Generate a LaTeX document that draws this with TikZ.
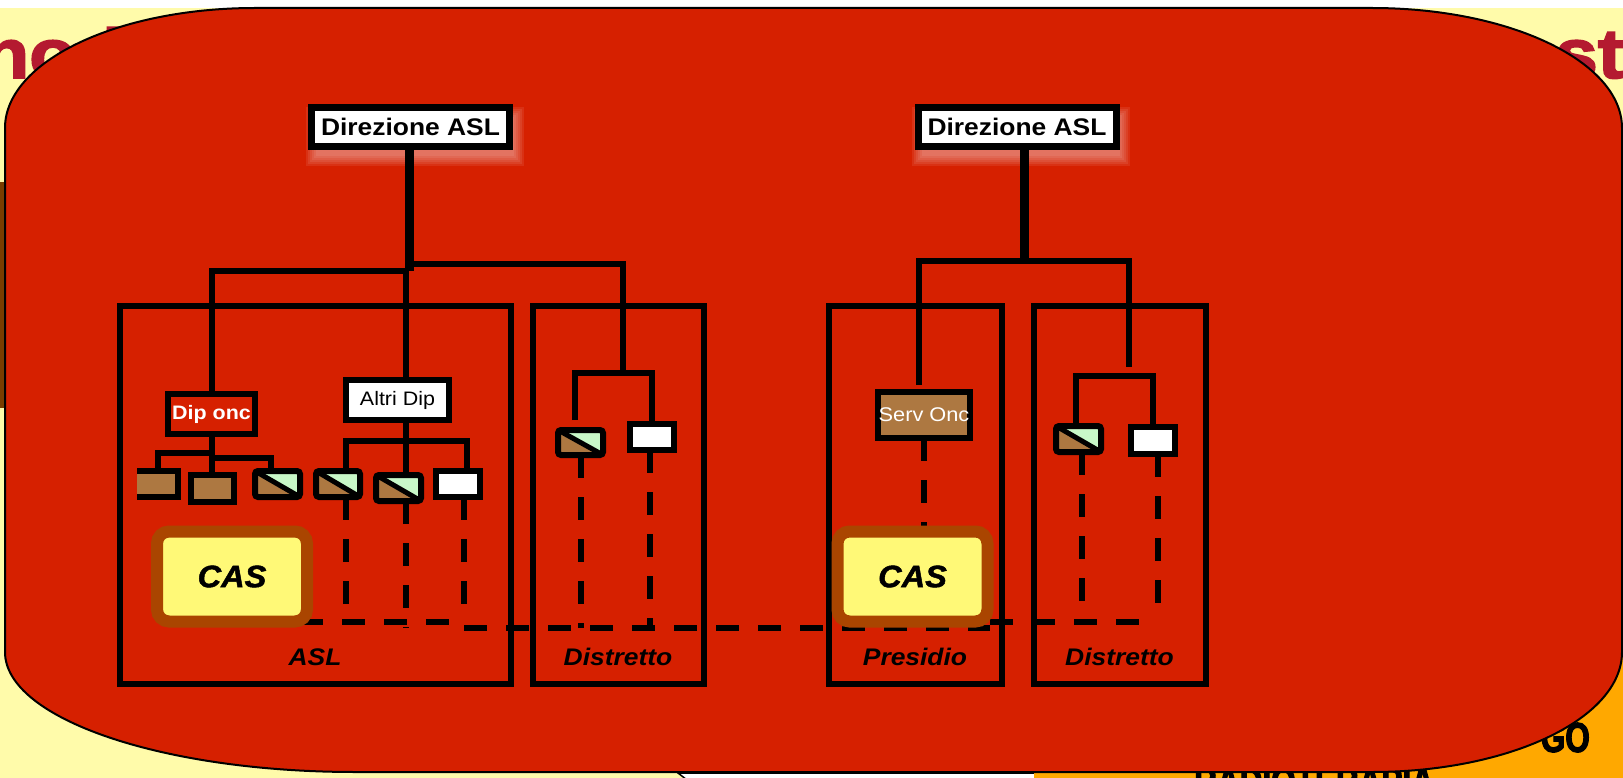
\documentclass[tikz,border=0pt]{standalone}
\usepackage{fontspec}
\setmainfont{Liberation Sans}[FakeStretch=1.1]
\newfontfamily\narrowf{Liberation Sans}[FakeStretch=0.75, FakeBold=2.5]
\newfontfamily\heavyf{Liberation Sans}[FakeStretch=1.1, FakeBold=2.5]
\newfontfamily\casf{Liberation Sans}[FakeStretch=1.05, FakeBold=1.5]
\pgfdeclarelayer{back}
\pgfdeclarelayer{lines}
\pgfsetlayers{back,lines,main}
\definecolor{bgy}{HTML}{FFFBAA}
\definecolor{titler}{HTML}{B41A30}
\definecolor{callred}{HTML}{D62000}
\definecolor{brownb}{HTML}{AD7841}
\definecolor{greenb}{HTML}{C8F8C8}
\definecolor{casbr}{HTML}{AA4500}
\definecolor{casy}{HTML}{FFF977}
\definecolor{stripc}{HTML}{793D00}
\definecolor{orng}{HTML}{FFA800}
\begin{document}
\begin{tikzpicture}[x=1pt,y=-1pt,
  box/.style={draw, line width=6pt, inner sep=0pt, outer sep=0pt},
  tree/.style={line width=6pt},
  thickv/.style={line width=9pt},
  dashln/.style={line width=6pt, dash pattern=on 23pt off 19pt},
  dirbox/.style={box, line width=7pt, fill=white, minimum width=198pt, minimum height=39pt,
    font=\fontsize{24}{28}\selectfont\bfseries},
  glow/.style={fill=white, opacity=0.08},
  brbox/.style={box, fill=brownb},
  whbox/.style={box, fill=white},
  splitbox/.style={box, fill=greenb, rounded corners=3pt,
    path picture={\fill[brownb] (path picture bounding box.north west) -- (path picture bounding box.south east) -- (path picture bounding box.south west) -- cycle;
      \draw[line width=5pt] (path picture bounding box.north west) -- (path picture bounding box.south east);}},
  cas/.style={draw=casbr, line width=12pt, fill=casy, rounded corners=12pt, minimum width=150pt,
    minimum height=90pt, inner sep=0pt, font=\fontsize{31}{34}\selectfont\casf\bfseries\itshape},
  lab/.style={inner sep=0pt, font=\fontsize{24}{28}\selectfont\bfseries\itshape},
  ttl/.style={inner sep=0pt, text=titler, font=\fontsize{70}{74}\selectfont\heavyf\bfseries},
  btm/.style={inner sep=0pt, text=black, font=\fontsize{42}{46}\selectfont\narrowf\bfseries}
]
\useasboundingbox (0,0) rectangle (1623,778);
\begin{pgfonlayer}{back}
\fill[white] (0,0) rectangle (1623,778);
\fill[bgy] (0,8) rectangle (1623,778);
\fill[stripc] (0,182) rectangle (6,408);
\filldraw[fill=white, draw=black, line width=1.5pt] (1060,773) -- (678,773) -- (700,790) -- (1060,790) -- cycle;
\fill[orng] (1034,480) rectangle (1623,778);
\node[ttl, anchor=base west] (t1) at (-18,78) {nod};
\node[ttl, anchor=base west] (t2) at (1512,78) {est};
\node[btm, anchor=base east] (t3) at (1590,752) {GO};
\node[btm, anchor=base west] (t4) at (1194,796) {RADIOTERAPIA};
\draw[fill=callred, line width=2pt]
  (5,128) .. controls (5,61.7) and (117,8) .. (255,8) -- (1372,8)
  .. controls (1510,8) and (1622,61.7) .. (1622,128) -- (1622,652)
  .. controls (1622,718.3) and (1510,772) .. (1372,772) -- (355,772)
  .. controls (161.7,772) and (5,718.3) .. (5,652) -- cycle;
\end{pgfonlayer}

% big boxes
\node[box, minimum width=391pt, minimum height=378pt] (asl) at (315.5,495) {};
\node[box, minimum width=171pt, minimum height=378pt] (dis1) at (618.5,495) {};
\node[box, minimum width=173pt, minimum height=378pt] (pres) at (915.5,495) {};
\node[box, minimum width=172pt, minimum height=378pt] (dis2) at (1120,495) {};
\node[lab, anchor=base] (lasl) at (315,665) {ASL};
\node[lab, anchor=base] (ldis1) at (618,665) {Distretto};
\node[lab, anchor=base] (lpres) at (915,665) {Presidio};
\node[lab, anchor=base] (ldis2) at (1119.5,665) {Distretto};

% top boxes
\node[dirbox] (dirL) at (410.5,127) {Direzione ASL};
\node[dirbox] (dirR) at (1017,127) {Direzione ASL};
\node[box, fill=callred, minimum width=87pt, minimum height=40pt, text=white,
  font=\fontsize{19.5}{22}\selectfont\bfseries] (dip) at (211.5,414) {Dip onc};
\node[box, fill=white, minimum width=103pt, minimum height=40pt,
  font=\fontsize{19.5}{22}\selectfont] (altri) at (397.5,400) {Altri Dip};
\node[box, fill=brownb, minimum width=92pt, minimum height=46pt, text=white,
  font=\fontsize{19.8}{22}\selectfont] (serv) at (924,415) {Serv Onc};

% small boxes
\node[box, draw=none, fill=brownb, minimum width=41pt, minimum height=26pt] (b1) at (157.5,484) {};
\draw[line width=6pt] (b1.north west) -- (b1.north east) -- (b1.south east) -- (b1.south west);
\node[brbox, minimum width=43pt, minimum height=27pt] (b2) at (212.5,488.5) {};
\node[splitbox, minimum width=45pt, minimum height=26pt] (b3) at (277.5,484) {};
\node[splitbox, minimum width=44pt, minimum height=26pt] (b4) at (338,484) {};
\node[splitbox, minimum width=45pt, minimum height=26pt] (b5) at (398.5,488) {};
\node[whbox, minimum width=44pt, minimum height=26pt] (b6) at (458,484) {};
\node[splitbox, minimum width=45pt, minimum height=25pt] (d1s) at (580.5,442.5) {};
\node[whbox, minimum width=44pt, minimum height=26pt] (d1w) at (652,437) {};
\node[splitbox, minimum width=45pt, minimum height=26pt] (d2s) at (1078.5,439) {};
\node[whbox, minimum width=44pt, minimum height=27pt] (d2w) at (1153,440.5) {};

% CAS
\node[cas] (cas1) at (232,576.5) {CAS};
\node[cas] (cas2) at (912.5,576.5) {CAS};

% junctions
\coordinate (jL) at (409,264);
\coordinate (jLL) at (409,271);
\coordinate (xA) at (406,441);
\coordinate (xD1) at (623,373);
\coordinate (jR) at (1024,261);
\coordinate (xR2) at (1129,261);
\coordinate (xD2) at (1129,376);
\coordinate (dipH) at (213,453);
\coordinate (dipH2) at (213,458);
\coordinate (hL) at (300,622);
\coordinate (hL2) at (464,622);
\coordinate (hM) at (464,628);
\coordinate (hR) at (990,622);
\coordinate (hE) at (1158,622);

\begin{pgfonlayer}{lines}
% soft glow behind the two Direzione boxes
\foreach \k in {0,2,4,6,8,10} {
  \fill[glow] ([shift={(4pt-\k pt,-10pt-\k pt)}]dirL.south west) rectangle ([shift={(4pt+\k pt,-10pt+\k pt)}]dirL.north east);
  \fill[glow] ([shift={(4pt-\k pt,-10pt-\k pt)}]dirR.south west) rectangle ([shift={(4pt+\k pt,-10pt+\k pt)}]dirR.north east);
}
\draw[thickv] (dirL.south -| jLL) -- (jLL);
\draw[tree] (dip.north) |- (jLL);
\draw[tree] (jL) -| (xD1);
\draw[tree] (altri.north -| xA) -- (xA |- jLL);
\draw[tree] ([xshift=-5.5pt,yshift=10pt]d1s.north) |- (xD1) -| (d1w.north);
\draw[tree] (dip.south) -- (dip.south |- b2.north);
\draw[tree] (b1.north) |- (dipH);
\draw[tree] ([xshift=-6.5pt]b3.north) |- (dipH2);
\draw[tree] (altri.south -| xA) -- (b5.north -| xA);
\draw[tree] ([xshift=8pt]b4.north) |- (xA) -| ([xshift=9pt]b6.north);
\draw[thickv] (dirR.south -| jR) -- (jR);
\draw[tree] ([xshift=-5pt,yshift=7pt]serv.north) |- (xR2) -- ([yshift=9pt]xD2);
\draw[tree] ([xshift=-2.5pt]d2s.north) |- (xD2) -| (d2w.north);
% dashed
\draw[dashln] ([xshift=8pt]b4.south) -- ([xshift=8pt]b4.south |- hL);
\draw[dashln] ([xshift=7.5pt]b5.south) -- ([xshift=7.5pt]b5.south |- hM);
\draw[dashln] ([xshift=6pt]b6.south) -- ([xshift=6pt]b6.south |- hL);
\draw[dashln] (d1s.south) -- (d1s.south |- hM);
\draw[dashln] ([xshift=-2pt]d1w.south) -- ([xshift=-2pt]d1w.south |- hM);
\draw[dashln] (serv.south) -- (serv.south |- cas2.north);
\draw[dashln] ([xshift=3.5pt]d2s.south) -- ([xshift=3.5pt]d2s.south |- hR);
\draw[dashln] ([xshift=5pt]d2w.south) -- ([xshift=5pt]d2w.south |- hR);
\draw[dashln] (hL) -- (hL2);
\draw[dashln] (hM) -- (hR |- hM);
\draw[dashln] (hR) -- (hE);
\end{pgfonlayer}
\end{tikzpicture}
\end{document}
